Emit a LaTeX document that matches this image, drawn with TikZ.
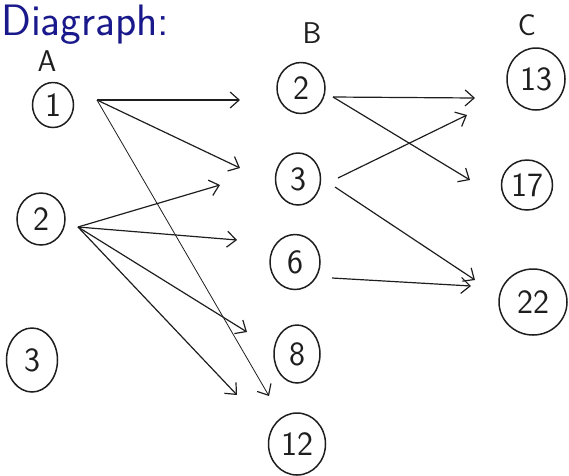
\documentclass[tikz,border=0pt]{standalone}
\usetikzlibrary{arrows.meta,calc,shapes.geometric}
\definecolor{ink}{RGB}{30,30,30}
\definecolor{pen}{RGB}{25,25,140}
\tikzset{
  vtx/.style={ellipse,draw=ink,line width=1.5pt,inner sep=0pt,font=\sffamily\fontsize{34}{34}\selectfont,text=ink},
  setlbl/.style={font=\sffamily\fontsize{30}{30}\selectfont,text=ink,inner sep=1pt},
  arr/.style={draw=ink,line width=1.2pt,-{Straight Barb[length=9pt,width=16pt,line width=1.2pt]}},
  thinarr/.style={arr,line width=0.8pt}
}
\begin{document}
\begin{tikzpicture}[x=1pt,y=-1pt]
\useasboundingbox (0,0) rectangle (569,475);
\node[anchor=base west,text=pen,font=\sffamily\fontsize{44}{44}\selectfont,inner sep=0pt] (title) at (1,35) {Diagraph:};
\node[setlbl] (la) at (47,61) {A};
\node[setlbl] (lb) at (312,33) {B};
\node[setlbl] (lc) at (527,25) {C};
% A
\node[vtx,minimum width=41,minimum height=45] (a1) at (53,105) {1};
\node[vtx,minimum width=48,minimum height=52] (a2) at (41,219) {2};
\node[vtx,minimum width=51,minimum height=64] (a3) at (32,360) {3};
% B
\node[vtx,minimum width=48,minimum height=51] (b2) at (301,88) {2};
\node[vtx,minimum width=45,minimum height=52] (b3) at (298,179) {3};
\node[vtx,minimum width=50,minimum height=55] (b6) at (295,262) {6};
\node[vtx,minimum width=46,minimum height=58] (b8) at (297,354) {8};
\node[vtx,minimum width=57,minimum height=62] (b12) at (297,444) {12};
% C
\node[vtx,minimum width=58,minimum height=62] (c13) at (536,79) {13};
\node[vtx,minimum width=51,minimum height=50] (c17) at (527,185) {17};
\node[vtx,minimum width=68,minimum height=66] (c22) at (533,302) {22};
% A -> B
\draw[arr] ($(a1)+(44,-5)$) -- ($(b2)+(-61,12)$);
\draw[arr] ($(a1)+(44,-5)$) -- ($(b3)+(-58,-11)$);
\draw[thinarr] ($(a1)+(44,-5)$) -- ($(b12)+(-28,-48)$);
\draw[arr] ($(a2)+(37,8)$) -- ($(b3)+(-78,6)$);
\draw[arr] ($(a2)+(37,8)$) -- ($(b6)+(-58,-22)$);
\draw[arr] ($(a2)+(37,8)$) -- ($(b8)+(-50,-22)$);
\draw[arr] ($(a2)+(37,8)$) -- ($(b12)+(-60,-49)$);
% B -> C
\draw[arr] ($(b2)+(32,9)$) -- ($(c13)+(-61,19)$);
\draw[arr] ($(b2)+(32,9)$) -- ($(c17)+(-57,-5)$);
\draw[arr] ($(b3)+(40,-1)$) -- ($(c13)+(-69,36)$);
\draw[arr] ($(b3)+(37,8)$) -- ($(c22)+(-58,-22)$);
\draw[arr] ($(b6)+(37,16)$) -- ($(c22)+(-62,-16)$);
\end{tikzpicture}
\end{document}
